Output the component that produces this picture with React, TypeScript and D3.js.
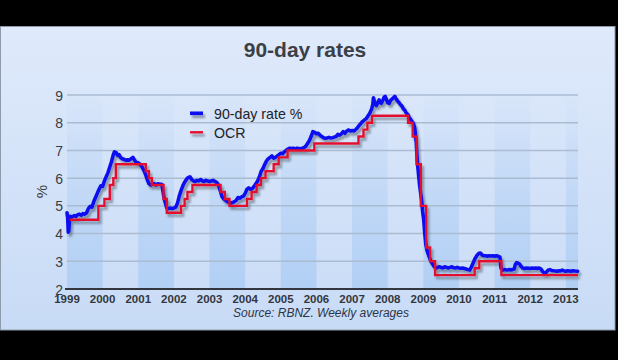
import React from "react";
import * as d3 from "d3";

const rateDates = [
  1999.0, 1999.02, 1999.035, 1999.05, 1999.07, 1999.1, 1999.15, 1999.2, 1999.25, 1999.3, 1999.35, 1999.4, 1999.45, 1999.5, 1999.55, 1999.6, 1999.65, 1999.7, 1999.75, 1999.8, 1999.85, 1999.9, 1999.95,
  2000.0, 2000.05, 2000.1, 2000.15, 2000.2, 2000.25, 2000.3, 2000.33, 2000.38, 2000.42, 2000.46, 2000.5, 2000.55, 2000.6, 2000.65, 2000.7, 2000.75, 2000.8, 2000.85, 2000.88, 2000.92, 2000.96,
  2001.0, 2001.05, 2001.1, 2001.15, 2001.2, 2001.25, 2001.3, 2001.35, 2001.4, 2001.45, 2001.5, 2001.55, 2001.6, 2001.66, 2001.69, 2001.72, 2001.76, 2001.8, 2001.85, 2001.9, 2001.95,
  2002.0, 2002.05, 2002.1, 2002.15, 2002.2, 2002.25, 2002.3, 2002.35, 2002.4, 2002.45, 2002.5, 2002.55, 2002.6, 2002.65, 2002.7, 2002.75, 2002.8, 2002.85, 2002.9, 2002.95,
  2003.0, 2003.05, 2003.1, 2003.15, 2003.2, 2003.25, 2003.3, 2003.35, 2003.4, 2003.45, 2003.5, 2003.55, 2003.6, 2003.65, 2003.7, 2003.75, 2003.8, 2003.85, 2003.9, 2003.95,
  2004.0, 2004.05, 2004.1, 2004.15, 2004.2, 2004.25, 2004.3, 2004.35, 2004.4, 2004.45, 2004.5, 2004.55, 2004.6, 2004.65, 2004.7, 2004.75, 2004.8, 2004.85, 2004.9, 2004.95,
  2005.0, 2005.05, 2005.1, 2005.15, 2005.2, 2005.25, 2005.3, 2005.35, 2005.4, 2005.45, 2005.5, 2005.55, 2005.6, 2005.65, 2005.7, 2005.75, 2005.8, 2005.85, 2005.9, 2005.95,
  2006.0, 2006.05, 2006.1, 2006.15, 2006.2, 2006.25, 2006.3, 2006.35, 2006.4, 2006.45, 2006.5, 2006.55, 2006.6, 2006.65, 2006.7, 2006.75, 2006.8, 2006.85, 2006.9, 2006.95,
  2007.0, 2007.05, 2007.1, 2007.15, 2007.2, 2007.25, 2007.3, 2007.35, 2007.4, 2007.45, 2007.5, 2007.55, 2007.58, 2007.6, 2007.62, 2007.65, 2007.68, 2007.72, 2007.76, 2007.78, 2007.82, 2007.86, 2007.9, 2007.93, 2007.96,
  2008.0, 2008.04, 2008.08, 2008.12, 2008.16, 2008.2, 2008.24, 2008.28, 2008.32, 2008.36, 2008.4, 2008.44, 2008.48, 2008.52, 2008.56, 2008.6, 2008.64, 2008.68, 2008.72, 2008.76, 2008.8, 2008.83, 2008.86, 2008.89, 2008.92, 2008.95, 2008.98,
  2009.01, 2009.04, 2009.07, 2009.1, 2009.14, 2009.18, 2009.22, 2009.26, 2009.3, 2009.35, 2009.4, 2009.45, 2009.5, 2009.55, 2009.6, 2009.65, 2009.7, 2009.75, 2009.8, 2009.85, 2009.9, 2009.95,
  2010.0, 2010.05, 2010.1, 2010.15, 2010.2, 2010.25, 2010.3, 2010.35, 2010.4, 2010.45, 2010.5, 2010.55, 2010.6, 2010.65, 2010.7, 2010.75, 2010.8, 2010.85, 2010.9, 2010.95,
  2011.0, 2011.05, 2011.1, 2011.15, 2011.18, 2011.22, 2011.3, 2011.35, 2011.4, 2011.45, 2011.5, 2011.55, 2011.58, 2011.62, 2011.66, 2011.7, 2011.74, 2011.78, 2011.82, 2011.86, 2011.9, 2011.95,
  2012.0, 2012.05, 2012.1, 2012.15, 2012.2, 2012.25, 2012.3, 2012.35, 2012.4, 2012.45, 2012.5, 2012.55, 2012.6, 2012.65, 2012.7, 2012.75, 2012.8, 2012.85, 2012.9, 2012.95,
  2013.0, 2013.05, 2013.1, 2013.15, 2013.2, 2013.25, 2013.33,
];

const rateValues = [
  4.75, 4.55, 4.05, 4.1, 4.5, 4.62, 4.6, 4.65, 4.62, 4.68, 4.7, 4.66, 4.72, 4.7, 4.75, 4.9, 4.98, 4.95, 5.15, 5.3, 5.45, 5.6, 5.72,
  5.7, 5.9, 6.05, 6.2, 6.4, 6.6, 6.85, 6.95, 6.92, 6.82, 6.85, 6.75, 6.7, 6.68, 6.65, 6.66, 6.65, 6.7, 6.75, 6.68, 6.6, 6.55,
  6.55, 6.5, 6.42, 6.3, 6.15, 5.95, 5.8, 5.75, 5.78, 5.8, 5.75, 5.8, 5.78, 5.78, 5.55, 5.3, 5.1, 4.92, 4.9, 4.92, 4.9,
  4.92, 4.95, 5.1, 5.35, 5.55, 5.72, 5.85, 5.95, 6.02, 6.05, 5.95, 5.9, 5.88, 5.92, 5.9, 5.95, 5.9, 5.88, 5.92, 5.9,
  5.88, 5.9, 5.92, 5.88, 5.85, 5.75, 5.55, 5.33, 5.25, 5.2, 5.15, 5.12, 5.1, 5.12, 5.15, 5.2, 5.3, 5.28, 5.32, 5.35,
  5.45, 5.6, 5.65, 5.6, 5.62, 5.7, 5.8, 5.9, 6.05, 6.25, 6.35, 6.5, 6.62, 6.7, 6.75, 6.8, 6.72, 6.75, 6.8, 6.85,
  6.9, 6.88, 6.95, 7.0, 7.05, 7.08, 7.06, 7.08, 7.05, 7.08, 7.07, 7.05, 7.08, 7.1, 7.15, 7.25, 7.35, 7.5, 7.68, 7.65,
  7.6, 7.62, 7.55, 7.5, 7.46, 7.44, 7.45, 7.47, 7.45, 7.46, 7.48, 7.5, 7.58, 7.55, 7.6, 7.68, 7.62, 7.7, 7.74, 7.7,
  7.72, 7.7, 7.75, 7.82, 7.9, 7.98, 8.05, 8.1, 8.15, 8.25, 8.35, 8.5, 8.65, 8.9, 8.8, 8.7, 8.62, 8.7, 8.82, 8.75, 8.7, 8.8, 8.92, 8.95, 8.85,
  8.72, 8.7, 8.8, 8.85, 8.9, 8.95, 8.85, 8.78, 8.72, 8.65, 8.6, 8.5, 8.45, 8.35, 8.3, 8.2, 8.12, 8.05, 7.98, 7.8, 7.3, 6.6, 6.2, 5.8, 5.5, 5.2, 4.8,
  4.5, 4.0, 3.6, 3.4, 3.25, 3.1, 2.98, 2.9, 2.82, 2.75, 2.78, 2.8, 2.78, 2.76, 2.8, 2.78, 2.76, 2.78, 2.8, 2.77, 2.76, 2.78,
  2.76, 2.75, 2.76, 2.74, 2.72, 2.7, 2.68, 2.8, 2.95, 3.1, 3.2, 3.28, 3.3, 3.22, 3.2, 3.2, 3.18, 3.2, 3.19, 3.2,
  3.18, 3.2, 3.18, 3.15, 2.75, 2.68, 2.7, 2.68, 2.7, 2.69, 2.7, 2.72, 2.88, 2.95, 2.93, 2.9, 2.82, 2.76, 2.75, 2.74, 2.76, 2.75,
  2.74, 2.76, 2.75, 2.76, 2.74, 2.76, 2.72, 2.62, 2.58, 2.6, 2.68, 2.7, 2.67, 2.66, 2.65, 2.64, 2.66, 2.65, 2.68, 2.65,
  2.64, 2.66, 2.65, 2.64, 2.66, 2.65, 2.64,
];

const ocrDates = [
  1999.08, 1999.88, 2000.05, 2000.2, 2000.3, 2000.37, 2001.21, 2001.3, 2001.38, 2001.71, 2001.8,
  2002.2, 2002.3, 2002.38, 2002.52, 2003.31, 2003.43, 2003.56, 2004.05, 2004.18, 2004.32, 2004.44,
  2004.57, 2004.8, 2004.94, 2005.19, 2005.94, 2007.18, 2007.32, 2007.43, 2007.56, 2008.57, 2008.7,
  2008.81, 2008.93, 2009.08, 2009.19, 2009.33, 2010.44, 2010.57, 2011.19, 2013.34,
];
const ocrValues = [
  4.5, 5.0, 5.25, 5.75, 6.0, 6.5, 6.25, 6.0, 5.75, 5.25, 4.75,
  5.0, 5.25, 5.5, 5.75, 5.5, 5.25, 5.0, 5.25, 5.5, 5.75, 6.0,
  6.25, 6.5, 6.75, 7.0, 7.25, 7.5, 7.75, 8.0, 8.25, 8.0, 7.5,
  6.5, 5.0, 3.5, 3.0, 2.5, 2.75, 3.0, 2.5, 2.5,
];

const yearTicks = [1999, 2000, 2001, 2002, 2003, 2004, 2005, 2006, 2007, 2008, 2009, 2010, 2011, 2012, 2013];
const yTicks = [2, 3, 4, 5, 6, 7, 8, 9];
const seriesNames = ["90-day rate %", "OCR"];
const title = "90-day rates";
const source = "Source: RBNZ. Weekly averages";

export default function App() {
  const W = 618, H = 360;
  const x = d3.scaleLinear().domain([1999, 2013.34]).range([67, 578]);
  const y = d3.scaleLinear().domain([2, 9]).range([289, 95]);

  const rate = rateDates.map((d, i) => [d, rateValues[i]] as [number, number]);
  const ocr = ocrDates.map((d, i) => [d, ocrValues[i]] as [number, number]);
  const lineRate = d3.line<[number, number]>().x(d => x(d[0])).y(d => y(d[1])).curve(d3.curveLinear);
  const lineOcr = d3.line<[number, number]>().x(d => x(d[0])).y(d => y(d[1])).curve(d3.curveStepAfter);

  const bandYears = yearTicks.filter((_, i) => i % 2 === 0);
  const font = "'Liberation Sans', Arial, Helvetica, sans-serif";

  return (
    <div style={{ position: "fixed", left: 0, top: 0 }}>
      <svg width={W} height={H} style={{ display: "block" }} fontFamily={font}>
        <defs>
          <linearGradient id="bg" x1="0" y1="0" x2="0" y2="1">
            <stop offset="0%" stopColor="#dfeafb" />
            <stop offset="100%" stopColor="#c8dbf6" />
          </linearGradient>
          <linearGradient id="band" gradientUnits="userSpaceOnUse" x1="0" y1="88" x2="0" y2="289">
            <stop offset="0%" stopColor="#a9cbf4" stopOpacity="0" />
            <stop offset="100%" stopColor="#a9cbf4" stopOpacity="0.75" />
          </linearGradient>
          <filter id="shadow" x="-5%" y="-5%" width="110%" height="120%">
            <feDropShadow dx="2" dy="3" stdDeviation="1.3" floodColor="#4a5260" floodOpacity="0.55" />
          </filter>
        </defs>
        <rect x={0} y={0} width={W} height={H} fill="#000" />
        <rect x={0.5} y={26.5} width={614.5} height={303.5} fill="url(#bg)" stroke="#8e9bab" strokeWidth={1} />

        {bandYears.map(yr => (
          <rect key={yr} x={x(yr)} y={88} width={Math.min(x(yr + 1), x(2013.34)) - x(yr)} height={289 - 88} fill="url(#band)" />
        ))}

        {yTicks.filter(t => t > 2).map(t => (
          <line key={t} x1={67} x2={578} y1={y(t)} y2={y(t)} stroke="#aabbd2" strokeWidth={1.5} />
        ))}
        {yTicks.map(t => (
          <text key={t} x={63} y={y(t) + 5.5} textAnchor="end" fontSize={14} fill="#3a3d42">{t}</text>
        ))}

        <line x1={65} x2={578} y1={289} y2={289} stroke="#33373d" strokeWidth={2} />
        {yearTicks.map(t => (
          <text key={t} x={x(t)} y={302.5} textAnchor="middle" fontSize={11.5} fontWeight="bold" fill="#33373d">{t}</text>
        ))}

        <text x={0} y={0} transform="translate(46.5,191.5) rotate(-90)" textAnchor="middle" fontSize={15} fill="#3a3d42">%</text>

        <text x={305} y={56.5} textAnchor="middle" fontSize={21} fontWeight="bold" fill="#3b4047">{title}</text>

        <g filter="url(#shadow)">
          <path d={lineRate(rate) || ""} fill="none" stroke="#0c0cf2" strokeWidth={3.6} strokeLinejoin="round" strokeLinecap="round" />
          <path d={lineOcr(ocr) || ""} fill="none" stroke="#e4102e" strokeWidth={2.4} strokeLinejoin="miter" />
          <line x1={190} x2={203} y1={113.3} y2={113.3} stroke="#0c0cf2" strokeWidth={3.6} />
          <line x1={190} x2={203} y1={132.3} y2={132.3} stroke="#e4102e" strokeWidth={2.4} />
        </g>
        <text x={214} y={119.3} fontSize={14.2} fill="#1e2126">{seriesNames[0]}</text>
        <text x={214} y={137.5} fontSize={14.2} fill="#1e2126">{seriesNames[1]}</text>

        <text x={321} y={317.3} textAnchor="middle" fontSize={12} fontStyle="italic" fill="#2c3648">{source}</text>
      </svg>
    </div>
  );
}
